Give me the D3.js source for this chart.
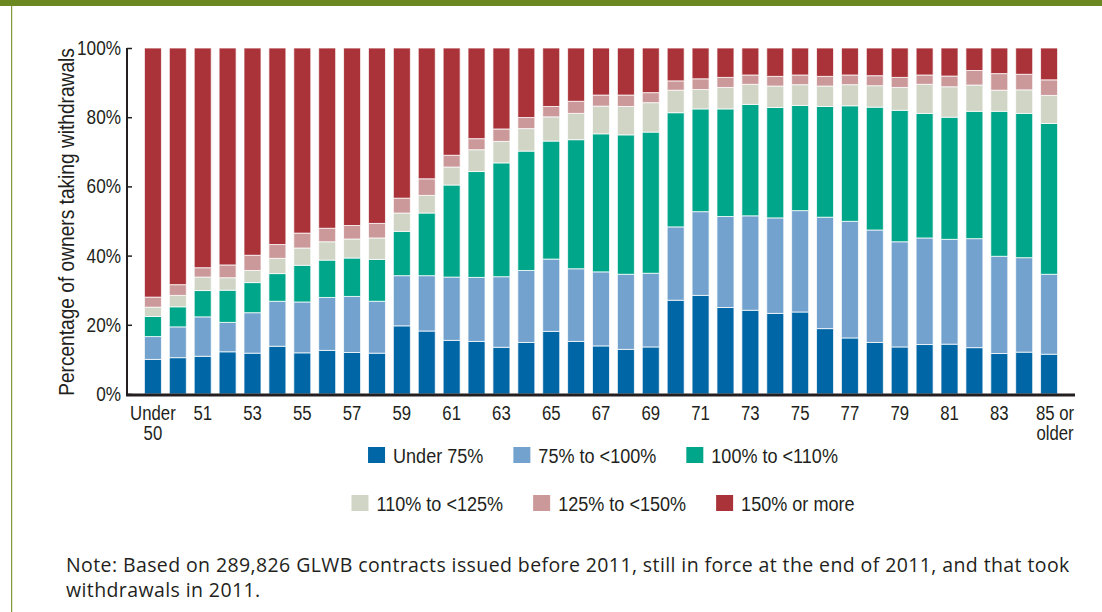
<!DOCTYPE html>
<html lang="en">
<head>
<meta charset="UTF-8">
<script src="https://d3js.org/d3.v7.min.js"></script>
<title>GLWB withdrawals by age</title>
<style>
  html, body { margin: 0; padding: 0; background: #fff; }
  svg { display: block; }
  .cond { font-family: "Liberation Sans", Arial, sans-serif; fill: #231f20; }
  .note { font-family: "Open Sans", Lato, sans-serif; fill: #231f20; }
</style>
</head>
<body>
<div id="chart"></div>
<script>

// age groups (one bar each)
var ages = ["Under 50", "50", "51", "52", "53", "54", "55", "56", "57", "58", "59",
  "60", "61", "62", "63", "64", "65", "66", "67", "68", "69", "70", "71", "72", "73",
  "74", "75", "76", "77", "78", "79", "80", "81", "82", "83", "84", "85 or older"];

var seriesNames = ["Under 75%", "75% to <100%", "100% to <110%", "110% to <125%", "125% to <150%", "150% or more"];
var colors = ["#0066a6", "#72a2cd", "#00a68a", "#d0d5c6", "#cc999a", "#aa3339"];

// share of owners (%) in each band
var under75 = [10.0, 10.5, 10.9, 12.2, 11.8, 13.8, 11.9, 12.6, 12.0, 11.8, 19.7,
  18.2, 15.5, 15.2, 13.5, 14.9, 18.1, 15.2, 13.9, 12.9, 13.6, 27.1, 28.5, 25.0, 24.2,
  23.3, 23.7, 18.9, 16.2, 14.9, 13.6, 14.3, 14.4, 13.4, 11.7, 12.1, 11.5];
var from75to100 = [6.6, 8.9, 11.4, 8.5, 11.7, 13.0, 14.7, 15.3, 16.2, 15.0, 14.5,
  16.0, 18.3, 18.5, 20.4, 20.8, 20.9, 21.0, 21.4, 21.7, 21.3, 21.2, 24.2, 26.3, 27.3,
  27.6, 29.3, 32.2, 33.7, 32.5, 30.4, 30.8, 30.3, 31.5, 28.1, 27.3, 23.1];
var from100to110 = [5.8, 5.8, 7.6, 9.3, 8.7, 8.0, 10.6, 10.8, 11.1, 12.1, 12.8,
  18.1, 26.6, 30.6, 32.9, 34.5, 34.1, 37.3, 39.9, 40.3, 40.8, 33.0, 29.7, 31.1, 32.2,
  31.9, 30.4, 32.0, 33.4, 35.5, 38.0, 36.0, 35.3, 36.8, 41.9, 41.7, 43.6];
var from110to125 = [2.7, 3.3, 3.9, 3.6, 3.5, 4.4, 5.0, 5.3, 5.5, 6.2, 5.3,
  5.1, 5.2, 6.3, 6.2, 6.5, 7.0, 7.6, 8.0, 8.2, 8.5, 6.5, 5.6, 6.2, 5.8,
  6.2, 6.0, 5.9, 6.1, 6.2, 6.6, 8.4, 8.8, 7.6, 6.1, 6.8, 8.1];
var from125to150 = [2.9, 3.1, 2.7, 3.7, 4.4, 4.0, 4.3, 3.9, 3.9, 4.2, 4.3,
  4.8, 3.4, 3.2, 3.6, 3.2, 3.0, 3.5, 3.2, 3.3, 2.9, 2.7, 3.1, 2.9, 2.7,
  2.8, 2.8, 2.8, 2.8, 2.9, 2.9, 2.7, 3.1, 4.2, 4.8, 4.5, 4.5];
var from150up = ages.map(function(d, i) {
  return 100 - under75[i] - from75to100[i] - from100to110[i] - from110to125[i] - from125to150[i];
});

var yTicks = [0, 20, 40, 60, 80, 100];
// only every other age gets a label
var xLabels = {"Under 50": ["Under", "50"], "51": ["51"], "53": ["53"], "55": ["55"], "57": ["57"],
  "59": ["59"], "61": ["61"], "63": ["63"], "65": ["65"], "67": ["67"], "69": ["69"],
  "71": ["71"], "73": ["73"], "75": ["75"], "77": ["77"], "79": ["79"], "81": ["81"],
  "83": ["83"], "85 or older": ["85 or", "older"]};

var W = 1102, H = 612;
var SX = 0.86; // squeeze to mimic the condensed face of the original
var svg = d3.select("#chart").append("svg").attr("width", W).attr("height", H);

// condensed-looking label at (px, py)
function label(parent, px, py, str, size, anchor, rot, sx) {
  return parent.append("text")
    .attr("class", "cond")
    .attr("font-size", size)
    .attr("text-anchor", anchor || "start")
    .attr("transform", "translate(" + px + "," + py + ")" + (rot ? " rotate(" + rot + ")" : "") + " scale(" + (sx || SX) + ",1)")
    .text(str);
}

// frame: green band on top, thin green rule on the left
svg.append("rect").attr("x", 0).attr("y", 0).attr("width", W).attr("height", 6).attr("fill", "#6b8920");
svg.append("rect").attr("x", 11).attr("y", 6).attr("width", 1.2).attr("height", H - 6).attr("fill", "#7f9a3a");

var x = d3.scaleBand().domain(ages).range([127, 1075]).paddingInner(0.317).paddingOuter(0.7);
var y = d3.scaleLinear().domain([0, 100]).range([394, 48]);

var table = ages.map(function(a, i) {
  return {age: a, s0: under75[i], s1: from75to100[i], s2: from100to110[i],
    s3: from110to125[i], s4: from125to150[i], s5: from150up[i]};
});
var stack = d3.stack().keys(["s0", "s1", "s2", "s3", "s4", "s5"])(table);

svg.append("g").selectAll("g")
  .data(stack)
  .enter().append("g")
  .attr("fill", function(d, i) { return colors[i]; })
  .selectAll("rect")
  .data(function(d) { return d; })
  .enter().append("rect")
  .attr("x", function(d) { return x(d.data.age); })
  .attr("y", function(d) { return y(d[1]); })
  .attr("width", x.bandwidth())
  .attr("height", function(d) { return y(d[0]) - y(d[1]); })
  .attr("stroke", "#fff")
  .attr("stroke-opacity", 0.75)
  .attr("stroke-width", 1);

// y axis
var yAxis = svg.append("g").attr("transform", "translate(127,0)")
  .call(d3.axisRight(y).tickValues(yTicks).tickSize(5).tickFormat(""));
yAxis.select(".domain").attr("stroke", "#231f20").attr("stroke-width", 2).attr("d", "M0," + y(100) + "V" + y(0));
yAxis.selectAll(".tick line").attr("stroke", "#231f20").attr("stroke-width", 1.5);

var yl = svg.append("g");
yTicks.forEach(function(t) {
  label(yl, 121, y(t) + 7, t + "%", 20, "end");
});

// x axis line
svg.append("line").attr("x1", 126).attr("x2", 1075).attr("y1", 395).attr("y2", 395)
  .attr("stroke", "#231f20").attr("stroke-width", 3);

var xl = svg.append("g");
ages.forEach(function(a) {
  if (!xLabels[a]) return;
  var cx = x(a) + x.bandwidth() / 2 + (a == "85 or older" ? 6 : 0);
  xLabels[a].forEach(function(line, i) {
    label(xl, cx, 420 + i * 20, line, 19.5, "middle");
  });
});

label(svg, 74, y(50) + 1, "Percentage of owners taking withdrawals", 22, "middle", -90, 0.87);

// legend, two centred rows
var rows = [[0, 1, 2], [3, 4, 5]];
rows.forEach(function(r, ri) {
  var g = svg.append("g");
  var cx = 0;
  r.forEach(function(k, j) {
    g.append("rect").attr("x", cx).attr("y", -8).attr("width", 17).attr("height", 16).attr("fill", colors[k]);
    var t = label(g, cx + 25, 7.5, seriesNames[k], 21, "start");
    cx += 25 + t.node().getComputedTextLength() * SX + (j < r.length - 1 ? 30 : 0);
  });
  g.attr("transform", "translate(" + (603 - cx / 2) + "," + (455 + ri * 48) + ")");
});

// note
var note = svg.append("text").attr("class", "note").attr("font-size", 19.5)
  .attr("letter-spacing", 0.4).attr("x", 66).attr("y", 572);
note.append("tspan").attr("x", 66).attr("dy", 0)
  .text("Note: Based on 289,826 GLWB contracts issued before 2011, still in force at the end of 2011, and that took");
note.append("tspan").attr("x", 66).attr("dy", 25).text("withdrawals in 2011.");

</script>
</body>
</html>
